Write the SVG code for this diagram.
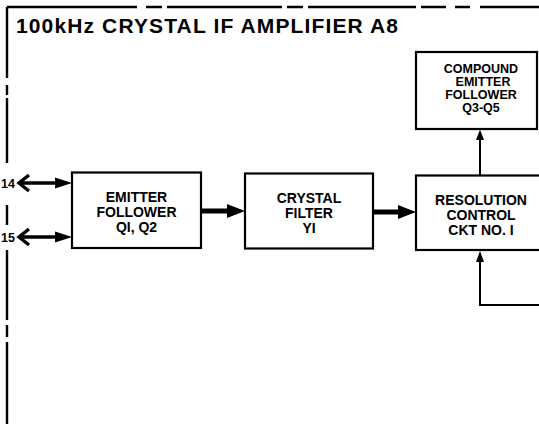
<svg xmlns="http://www.w3.org/2000/svg" width="539" height="424" viewBox="0 0 539 424">
<style>
.box{fill:#fff;stroke:#000;stroke-width:2.2}
.t{font-family:"Liberation Sans",Arial,sans-serif;font-weight:bold;fill:#000;text-anchor:middle}
.b13{font-size:14px}
.c13{font-size:12.5px}
.border{stroke:#000;stroke-width:2.4;fill:none}
.thick{stroke:#000;stroke-width:5;fill:none}
.mid{stroke:#000;stroke-width:3.4;fill:none}
.thin{stroke:#000;stroke-width:2;fill:none}
.head{fill:#000}
</style>
<rect width="539" height="424" fill="#fff"/>
<g id="frame">
<path class="border" d="M7,7H137 M146,7H162 M167,7H282 M287,7H303 M308,7H416 M421,7H446 M455,7H470 M480,7H539"/>
<path class="border" d="M7,7V78 M7,85V95 M7,98V163 M7,205V225 M7,250V320 M7,325V337 M7,342V424"/>
<text class="t" x="16" y="33" style="font-size:21px;text-anchor:start" textLength="382" lengthAdjust="spacing">100kHz  CRYSTAL  IF  AMPLIFIER  A8</text>
</g>
<g id="connectors">
<path class="mid" d="M20,183H58 M20,237H58"/>
<path class="mid" d="M29,175L19,183L29,191 M29,229L19,237L29,245"/>
<polygon class="head" points="72,183 55,177.5 55,188.5"/>
<polygon class="head" points="72,237 55,231.5 55,242.5"/>
<path class="thick" d="M201,211H228"/>
<polygon class="head" points="245,211 227,204 227,218"/>
<path class="thick" d="M373,212H399"/>
<polygon class="head" points="416,212 398,205 398,219"/>
<path class="thin" d="M480,176V139"/>
<polygon class="head" points="480,129.5 476,140 484,140"/>
<path class="thin" d="M539,305H480V261"/>
<polygon class="head" points="480,251 476,262 484,262"/>
</g>
<g id="emitter-follower">
<rect class="box" x="72" y="172.5" width="129" height="75.5"/>
<text class="t b13" x="136.5" y="202">EMITTER</text>
<text class="t b13" x="136.5" y="217">FOLLOWER</text>
<text class="t b13" x="136.5" y="232">QI, Q2</text>
</g>
<g id="crystal-filter">
<rect class="box" x="245" y="173.5" width="128" height="75"/>
<text class="t b13" x="309" y="203">CRYSTAL</text>
<text class="t b13" x="309" y="218">FILTER</text>
<text class="t b13" x="309" y="233">YI</text>
</g>
<g id="resolution-control">
<rect class="box" x="416" y="175.5" width="140" height="74.5"/>
<text class="t b13" x="481" y="205">RESOLUTION</text>
<text class="t b13" x="481" y="220">CONTROL</text>
<text class="t b13" x="481" y="235">CKT NO. I</text>
</g>
<g id="compound-emitter-follower">
<rect class="box" x="416" y="52" width="121" height="77"/>
<text class="t c13" x="481" y="73">COMPOUND</text>
<text class="t c13" x="483" y="86">EMITTER</text>
<text class="t c13" x="481" y="99">FOLLOWER</text>
<text class="t c13" x="481" y="112">Q3-Q5</text>
</g>
<g id="labels">
<text class="t" style="font-size:12.5px;text-anchor:end" x="15" y="188">14</text>
<text class="t" style="font-size:12.5px;text-anchor:end" x="15" y="242">15</text>
</g>
</svg>
